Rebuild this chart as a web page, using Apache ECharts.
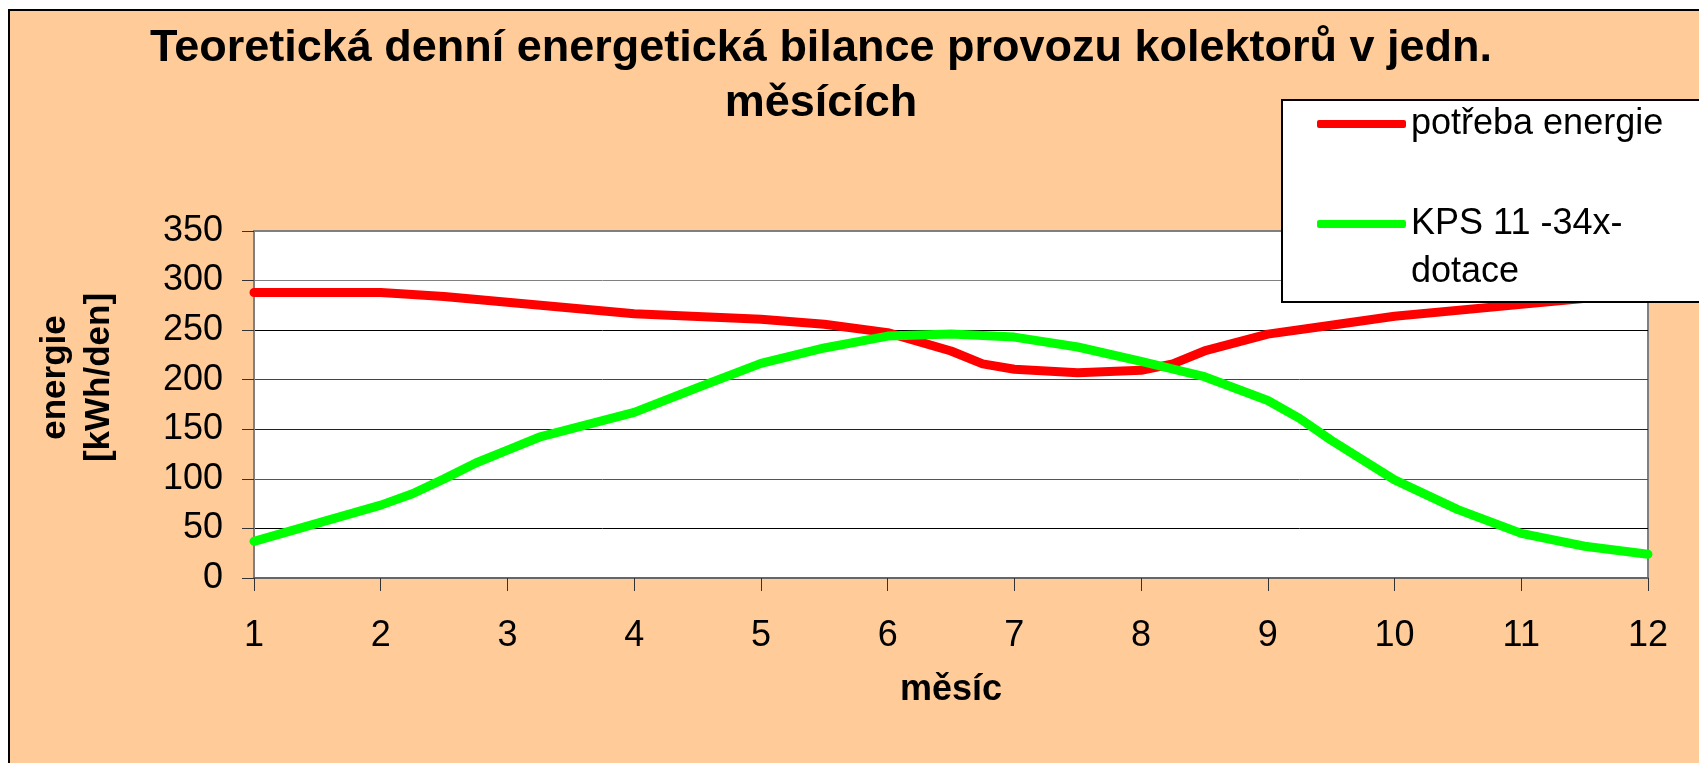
<!DOCTYPE html>
<html>
<head>
<meta charset="utf-8">
<title>Teoretická denní energetická bilance</title>
<script src="https://cdn.jsdelivr.net/npm/echarts@6/dist/echarts.min.js"></script>
<style>
  html, body { margin: 0; padding: 0; background: #fff; overflow: hidden; }
  /* peach chart area with black frame, runs off the right and bottom edge */
  #frame { position: absolute; left: 8px; top: 9px; width: 1760px; height: 800px; background: #ffcc99; border: 2px solid #000; }
  #chart { position: absolute; left: 0; top: 0; width: 1699px; height: 763px; }
</style>
</head>
<body>
<div id="frame"></div>
<div id="chart"></div>
<script>
const titleText = 'Teoretická denní energetická bilance provozu kolektorů v jedn.\nměsících'
const seriesNames = ['potřeba energie', 'KPS 11 -34x-\ndotace']

// potřeba energie (kWh/den)
const redMonths = [1, 2, 2.5, 4, 5, 5.5, 6, 6.5, 6.75, 7, 7.5, 8, 8.25, 8.5, 9, 9.5, 10, 11, 12]
const redValues = [288, 288, 284, 266.5, 261, 256, 247.5, 229, 216, 210.5, 207, 209.5, 216, 229, 246, 255, 264, 276, 288]

// KPS 11 -34x- dotace (kWh/den)
const greenMonths = [1, 2, 2.25, 2.5, 2.75, 3, 3.25, 4, 4.5, 5, 5.5, 6, 6.5, 7, 7.5, 8, 8.5, 9, 9.25, 9.5, 10, 10.5, 11, 11.5, 12]
const greenValues = [37, 73.5, 85, 100, 116, 129, 142, 167, 192, 216.5, 232, 244, 246, 243, 233, 218.5, 203, 179, 161, 139, 99, 69, 45, 32, 24]

const fontFamily = '"Liberation Sans", Arial, sans-serif'

const toPairs = (xs, ys) => xs.map((x, i) => [x, ys[i]])

const chart = echarts.init(document.getElementById('chart'), null, { renderer: 'canvas' })

chart.setOption({
  backgroundColor: 'transparent',
  animation: false,
  title: {
    text: titleText,
    left: 816,
    top: 16,
    textAlign: 'center',
    textStyle: { fontFamily, fontSize: 45, fontWeight: 'bold', color: '#000', lineHeight: 55 }
  },
  legend: {
    orient: 'vertical',
    left: 1282,
    top: 100,
    padding: [0, 120, 6, 35],
    itemGap: 4,
    itemWidth: 89,
    itemHeight: 8,
    icon: 'roundRect',
    backgroundColor: '#fff',
    borderColor: '#000',
    borderWidth: 2,
    borderRadius: 0,
    textStyle: { fontFamily, fontSize: 36, color: '#000', lineHeight: 48 },
    // wrapped second entry: keep its first line level with the legend line
    formatter: name => (name === seriesNames[1] ? '\n' + name : name),
    data: seriesNames
  },
  grid: {
    left: 254,
    top: 231,
    width: 1394,
    height: 347,
    show: true,
    backgroundColor: '#fff',
    borderColor: '#808080',
    borderWidth: 2
  },
  xAxis: {
    type: 'value',
    min: 1,
    max: 12,
    interval: 1,
    name: 'měsíc',
    nameLocation: 'middle',
    nameGap: 94,
    nameTextStyle: { fontFamily, fontSize: 36, fontWeight: 'bold', color: '#000' },
    axisLine: { lineStyle: { color: '#666', width: 2 } },
    axisTick: { show: true, length: 13, lineStyle: { color: '#333', width: 1 } },
    axisLabel: { fontFamily, fontSize: 36, color: '#000', margin: 40 },
    splitLine: { show: false }
  },
  yAxis: {
    type: 'value',
    min: 0,
    max: 350,
    interval: 50,
    name: 'energie\n[kWh/den]',
    nameLocation: 'middle',
    nameRotate: 90,
    nameGap: 133,
    nameTextStyle: { fontFamily, fontSize: 35, fontWeight: 'bold', color: '#000', lineHeight: 44, padding: [0, 0, 0, 54] },
    axisLine: { show: true, lineStyle: { color: '#808080', width: 2 } },
    axisTick: { show: true, length: 12, lineStyle: { color: '#333', width: 1 } },
    axisLabel: { fontFamily, fontSize: 36, color: '#000', margin: 31 },
    splitLine: {
      show: true,
      lineStyle: { color: ['#000', '#000', '#555', '#222', '#444', '#000', '#808080', '#808080'], width: 1 }
    }
  },
  series: [
    {
      name: seriesNames[0],
      type: 'line',
      data: toPairs(redMonths, redValues),
      symbol: 'none',
      showSymbol: false,
      itemStyle: { color: '#ff0000' },
      lineStyle: { color: '#ff0000', width: 9, cap: 'round', join: 'round' }
    },
    {
      name: seriesNames[1],
      type: 'line',
      data: toPairs(greenMonths, greenValues),
      symbol: 'none',
      showSymbol: false,
      itemStyle: { color: '#00ff00' },
      lineStyle: { color: '#00ff00', width: 9, cap: 'round', join: 'round' }
    }
  ]
})
</script>
</body>
</html>
